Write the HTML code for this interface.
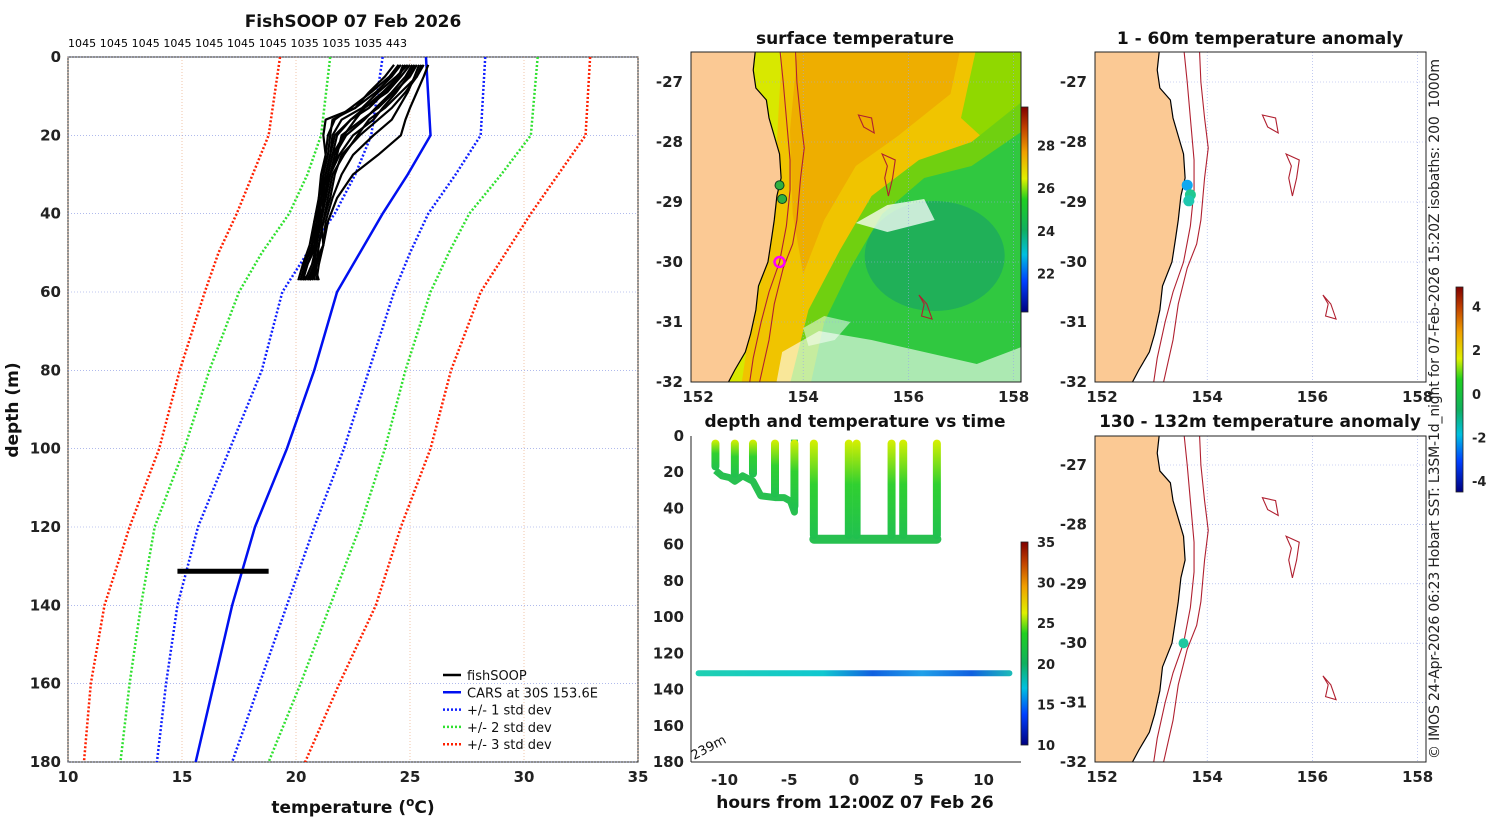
<!DOCTYPE html>
<html><head><meta charset="utf-8"><style>
html,body{margin:0;padding:0;background:#fff;}
svg{display:block;font-family:"DejaVu Sans","Liberation Sans",sans-serif;}
.tk{font-size:15px;font-weight:bold;fill:#222;}
.tt{font-size:17px;font-weight:bold;fill:#111;}
</style></head><body>
<svg id="fig" width="1500" height="820" viewBox="0 0 1500 820" xmlns="http://www.w3.org/2000/svg">
<defs>
<linearGradient id="jet" x1="0" y1="1" x2="0" y2="0">
<stop offset="0" stop-color="#000080"/><stop offset="0.15" stop-color="#0040ff"/><stop offset="0.28" stop-color="#00c0e0"/><stop offset="0.4" stop-color="#10b060"/><stop offset="0.55" stop-color="#20d020"/><stop offset="0.65" stop-color="#e0f000"/><stop offset="0.78" stop-color="#f0a000"/><stop offset="0.9" stop-color="#c04000"/><stop offset="1" stop-color="#800000"/></linearGradient>
<linearGradient id="dive" x1="0" y1="0" x2="0" y2="1"><stop offset="0" stop-color="#d8f000"/><stop offset="0.45" stop-color="#30d030"/><stop offset="1" stop-color="#20c050"/></linearGradient>
<linearGradient id="deep" gradientUnits="userSpaceOnUse" x1="691" y1="0" x2="1021" y2="0"><stop offset="0" stop-color="#20d0b0"/><stop offset="0.4" stop-color="#10c8d0"/><stop offset="0.55" stop-color="#1060e0"/><stop offset="0.7" stop-color="#20a0e8"/><stop offset="0.85" stop-color="#1060e0"/><stop offset="1" stop-color="#20d0b0"/></linearGradient>
<clipPath id="cMid"><rect x="691" y="52" width="330" height="330"/></clipPath>
<clipPath id="cR1"><rect x="1095" y="52" width="331" height="330"/></clipPath>
<clipPath id="cR2"><rect x="1095" y="436" width="331" height="326"/></clipPath>
<clipPath id="cL"><rect x="68" y="57" width="570" height="705"/></clipPath>
</defs>
<g id="gL"></g>
<g id="gM"></g>
<g id="gT"></g>
<g id="gR1"></g>
<g id="gR2"></g>
<text x="353" y="27" text-anchor="middle" class="tt">FishSOOP 07 Feb 2026</text>
<text x="68" y="47" style="font-size:11px" textLength="339">1045 1045 1045 1045 1045 1045 1045 1035 1035 1035 443</text>
<text x="353" y="813" text-anchor="middle" class="tt">temperature (<tspan dy="-7" font-size="12">o</tspan><tspan dy="7">C)</tspan></text>
<text transform="translate(18,410) rotate(-90)" text-anchor="middle" class="tt">depth (m)</text>
<text x="855" y="44" text-anchor="middle" class="tt">surface temperature</text>
<text x="1260" y="44" text-anchor="middle" class="tt">1 - 60m temperature anomaly</text>
<text x="855" y="427" text-anchor="middle" class="tt">depth and temperature vs time</text>
<text x="1260" y="427" text-anchor="middle" class="tt">130 - 132m temperature anomaly</text>
<text x="855" y="808" text-anchor="middle" class="tt">hours from 12:00Z 07 Feb 26</text>
<text transform="translate(1439,409) rotate(-90)" text-anchor="middle" textLength="700" style="font-size:14px" fill="#222">© IMOS 24-Apr-2026 06:23 Hobart SST: L3SM-1d_night for 07-Feb-2026 15:20Z isobaths: 200&#160;&#160;1000m</text>
</svg>
<script>
const NS="http://www.w3.org/2000/svg";
function el(p,tag,a){const e=document.createElementNS(NS,tag);for(const k in a)e.setAttribute(k,a[k]);p.appendChild(e);return e;}
/* ---------- profile chart data ---------- */
const stdDepths=[0,20,30,40,50,60,80,100,120,140,160,180];
const carsMean=[25.7,25.9,24.9,23.8,22.8,21.8,20.8,19.6,18.2,17.2,16.4,15.6];
const plus1=[28.3,28.1,27.0,25.8,25.0,24.3,23.2,22.1,20.8,19.6,18.4,17.2];
const minus1=[23.8,23.3,22.6,21.7,20.5,19.4,18.5,17.1,15.7,14.8,14.3,13.9];
const plus2=[30.6,30.3,29.0,27.6,26.7,25.9,24.8,23.9,22.8,21.5,20.2,18.8];
const minus2=[21.5,21.1,20.5,19.7,18.5,17.5,16.2,15.1,13.8,13.2,12.7,12.3];
const plus3=[32.9,32.7,31.5,30.3,29.2,28.1,26.8,25.9,24.6,23.5,21.9,20.4];
const minus3=[19.3,18.8,18.1,17.4,16.6,16.0,14.9,14.0,12.7,11.6,11.0,10.7];
const fishDepths=[2,5,9,13,16,20,25,30,36,42,48,53,57];
const fishProfiles=[
[25.0,24.6,24.0,23.0,22.4,21.8,21.6,21.4,21.3,21.0,20.9,20.5,20.3],
[25.3,25.0,24.3,23.6,22.9,22.0,21.8,21.5,21.2,21.1,20.9,20.7,20.4],
[24.6,24.2,23.5,22.6,21.3,21.2,21.3,21.1,21.0,20.8,20.7,20.4,20.2],
[25.6,25.3,24.8,24.2,23.6,22.8,22.0,21.7,21.5,21.2,21.0,20.9,20.6],
[24.8,24.5,23.9,23.2,22.4,21.7,21.5,21.3,21.2,20.8,20.6,20.3,20.1],
[25.4,25.2,24.9,24.5,24.2,23.4,22.5,22.0,21.6,21.3,21.2,20.9,20.7],
[24.3,23.9,23.2,22.6,21.6,21.5,21.4,21.2,21.0,21.0,20.8,20.5,20.3],
[25.8,25.6,25.3,25.0,24.8,24.6,23.6,22.5,21.8,21.4,21.2,21.0,20.9],
[25.1,24.8,24.2,23.5,23.0,22.2,21.7,21.5,21.3,21.0,20.9,20.8,20.5],
[24.9,24.4,23.6,22.9,22.0,21.6,21.5,21.3,21.1,21.0,20.9,20.8,20.6],
[25.5,25.3,24.6,23.9,23.2,22.7,22.1,21.6,21.4,21.2,21.0,20.9,20.8],
[24.7,24.5,23.8,23.0,22.6,22.1,21.6,21.4,21.1,20.9,20.7,20.4,20.2],
[25.2,24.9,24.4,23.8,23.4,22.5,21.9,21.5,21.3,21.1,21.2,20.8,21.0],
[24.5,24.1,23.3,22.4,21.7,21.4,21.3,21.2,21.1,20.9,20.8,20.3,20.4]
];
const deepBlobT=[14.8,18.8];const deepBlobD=131.3;
const xTicks=[10,15,20,25,30,35];const yTicks=[0,20,40,60,80,100,120,140,160,180];
const X=t=>68+(t-10)*22.8, Y=d=>57+d*3.9167;
const gL=document.getElementById('gL');
let r=el(gL,'rect',{x:68,y:57,width:570,height:705,fill:'#fff',stroke:'#222','stroke-width':1});


xTicks.forEach(t=>{
 let g=el(gL,'line',{x1:X(t),x2:X(t),y1:57,y2:762,stroke:'#e8a070','stroke-width':0.6,'stroke-dasharray':'1,2'});
 
 
 let tx=el(gL,'text',{x:X(t),y:782,'text-anchor':'middle',class:'tk'});tx.textContent=t;
 
 
});
yTicks.forEach(d=>{
 let g=el(gL,'line',{x1:68,x2:638,y1:Y(d),y2:Y(d),stroke:'#8090e0','stroke-width':0.6,'stroke-dasharray':'1,2'});
 
 
 let tx=el(gL,'text',{x:61,y:Y(d)+5,'text-anchor':'end',class:'tk'});tx.textContent=d;
 
 
});
const gLc=el(gL,'g',{'clip-path':'url(#cL)'});
function line(arr,col,dash,w,name){
 let p=el(gLc,'polyline',{points:arr.map((t,i)=>X(t)+','+Y(stdDepths[i])).join(' '),fill:'none',stroke:col,'stroke-width':w,'stroke-dasharray':dash});
 
 
}
line(plus3,'#ff2000','2,2',2.5,'plus-3-std-line');line(minus3,'#ff2000','2,2',2.5,'minus-3-std-line');
line(plus2,'#30e030','2,2',2.5,'plus-2-std-line');line(minus2,'#30e030','2,2',2.5,'minus-2-std-line');
line(plus1,'#1020ff','2,2',2.5,'plus-1-std-line');line(minus1,'#1020ff','2,2',2.5,'minus-1-std-line');
line(carsMean,'#0010f0','',2.5,'cars-mean-line');
fishProfiles.forEach(pr=>{
 let p=el(gLc,'polyline',{points:pr.map((t,i)=>X(t)+','+Y(fishDepths[i])).join(' '),fill:'none',stroke:'#000','stroke-width':2.2,'stroke-linejoin':'round'});
 
 
});
let bl=el(gLc,'line',{x1:X(deepBlobT[0]),x2:X(deepBlobT[1]),y1:Y(deepBlobD),y2:Y(deepBlobD),stroke:'#000','stroke-width':5});


const legLabels=['fishSOOP','CARS at 30S 153.6E','+/- 1 std dev','+/- 2 std dev','+/- 3 std dev'];
const legCols=['#000','#0010f0','#1020ff','#30e030','#ff2000'];
legLabels.forEach((s,i)=>{
 const y=675+i*17.3;
 let l=el(gL,'line',{x1:443,x2:461,y1:y,y2:y,stroke:legCols[i],'stroke-width':2.5,'stroke-dasharray':i>1?'2,2':''});
 
 
 let t=el(gL,'text',{x:467,y:y+5,'font-size':13,fill:'#111'});t.textContent=s;
 
 
});
/* ---------- maps ---------- */
const lonTicks=[152,154,156,158];const latTicks=[-27,-28,-29,-30,-31,-32];
const coast=[[153.1,-26.4],[153.05,-26.8],[153.1,-27.1],[153.3,-27.3],[153.35,-27.6],[153.45,-27.9],[153.55,-28.2],[153.58,-28.6],[153.5,-28.9],[153.45,-29.3],[153.4,-29.6],[153.33,-30],[153.15,-30.4],[153.1,-30.8],[153.0,-31.2],[152.9,-31.5],[152.7,-31.8],[152.55,-32.05],[152.5,-32.2]];
const iso200=[[153.55,-26.4],[153.62,-27.0],[153.68,-27.6],[153.75,-28.3],[153.75,-28.8],[153.68,-29.4],[153.55,-30],[153.35,-30.5],[153.2,-31],[153.05,-31.6],[152.95,-32.2]];
const iso1000=[[153.85,-26.4],[153.88,-27.0],[153.95,-27.6],[154.02,-28.1],[153.95,-28.6],[153.88,-29.3],[153.8,-29.7],[153.62,-30.1],[153.45,-30.7],[153.35,-31.3],[153.12,-32.2]];
const seamounts=[
[[155.05,-27.55],[155.3,-27.6],[155.35,-27.85],[155.15,-27.75]],
[[155.5,-28.2],[155.75,-28.3],[155.7,-28.6],[155.62,-28.9],[155.55,-28.6],[155.6,-28.4]],
[[156.2,-30.55],[156.35,-30.7],[156.45,-30.95],[156.25,-30.9],[156.3,-30.7]]];
function map(g,x0,y0,w,h,ly,lpd,clip,isSST){
 const LX=lon=>x0+7+(lon-152)*52.6, LY=lat=>ly+(-27-lat)*lpd;
 const P=a=>a.map(p=>LX(p[0])+','+LY(p[1])).join(' ');
 const c=el(g,'g',{'clip-path':clip});
 if(isSST){
  el(c,'rect',{x:x0,y:y0,width:w,height:h,fill:'#f0c400'});
  el(c,'polygon',{points:P([[153.9,-26.4],[157.0,-26.4],[156.8,-27.2],[155.8,-27.9],[155.0,-28.4],[154.4,-29.3],[154.0,-30.2],[153.8,-29.2],[153.75,-27.8]]),fill:'#eeae00'});
  el(c,'polygon',{points:P([[153.1,-26.4],[153.6,-26.4],[153.5,-28],[153.5,-29],[153.3,-30],[153.0,-31],[152.8,-32.2],[152.5,-32.2]]),fill:'#d8e800'});
  el(c,'polygon',{points:P([[157.3,-26.4],[158.2,-26.4],[158.2,-31],[157.5,-28.0],[157.0,-27.6]]),fill:'#90d800'});
  el(c,'polygon',{points:P([[158.2,-27.3],[157.2,-28.0],[156.2,-28.3],[155.3,-28.9],[154.7,-29.8],[154.1,-30.8],[153.7,-32.2],[158.2,-32.2]]),fill:'#70d010'});
  el(c,'polygon',{points:P([[158.2,-27.8],[157.2,-28.4],[156.3,-28.6],[155.5,-29.2],[154.9,-30.1],[154.4,-31.0],[154.1,-32.2],[158.2,-32.2]]),fill:'#30c840'});
  el(c,'ellipse',{cx:LX(156.5),cy:LY(-29.9),rx:70,ry:55,fill:'#20b058'});
  el(c,'polygon',{points:P([[153.45,-32.2],[153.6,-31.5],[154.3,-31.15],[155.3,-31.3],[156.3,-31.5],[157.3,-31.7],[158.2,-31.4],[158.2,-32.2]]),fill:'#fff','fill-opacity':0.6});
  el(c,'polygon',{points:P([[155.0,-29.35],[155.6,-29.05],[156.3,-28.95],[156.5,-29.3],[155.6,-29.5]]),fill:'#fff','fill-opacity':0.75});
  el(c,'polygon',{points:P([[154.0,-31.1],[154.4,-30.9],[154.9,-31.0],[154.6,-31.3],[154.1,-31.4]]),fill:'#fff','fill-opacity':0.5});
 }
 latTicks.forEach(lt=>{let q=el(c,'line',{x1:x0,x2:x0+w,y1:LY(lt),y2:LY(lt),stroke:'#9aa8e8','stroke-width':0.6,'stroke-dasharray':'1,2'});
  
  });
 lonTicks.forEach(ln=>{let q=el(c,'line',{x1:LX(ln),x2:LX(ln),y1:y0,y2:y0+h,stroke:'#9aa8e8','stroke-width':0.6,'stroke-dasharray':'1,2'});
  
  });
 let land=el(c,'polygon',{points:P(coast.concat([[151,-32.3],[151,-26.3]])),fill:'#fbc994',stroke:'#000','stroke-width':1.2});
 
 
 [iso200,iso1000].forEach(a=>{let q=el(c,'polyline',{points:P(a),fill:'none',stroke:'#b02030','stroke-width':1.1});
  
  });
 seamounts.forEach(a=>{let q=el(c,'polygon',{points:P(a),fill:'none',stroke:'#b02030','stroke-width':1.1});
  
  });
 let bx=el(g,'rect',{x:x0,y:y0,width:w,height:h,fill:'none',stroke:'#222','stroke-width':1});
 
 
 lonTicks.forEach(ln=>{let t=el(g,'text',{x:LX(ln),y:y0+h+20,'text-anchor':'middle',class:'tk'});t.textContent=ln;
  
  });
 latTicks.forEach(lt=>{let t=el(g,'text',{x:x0-8,y:LY(lt)+5,'text-anchor':'end',class:'tk'});t.textContent=lt;
  
  });
 return {LX,LY};
}
const gM=document.getElementById('gM');
const m1=map(gM,691,52,330,330,82,60,'url(#cMid)',true);
let pos=el(gM,'circle',{cx:m1.LX(153.55),cy:m1.LY(-30),r:5,fill:'none',stroke:'#ff00ff','stroke-width':2.5});


[[153.55,-28.72],[153.6,-28.95]].forEach(p=>{let q=el(gM,'circle',{cx:m1.LX(p[0]),cy:m1.LY(p[1]),r:4.5,fill:'#30b040',stroke:'#104020','stroke-width':1});
 
 });
function cbar(g,x,y0,y1,ticks,v0,v1,name){
 let b=el(g,'rect',{x:x,y:y0,width:7,height:y1-y0,fill:'url(#jet)',stroke:'#222','stroke-width':0.8});
 
 
 ticks.forEach(v=>{const y=y1-(v-v0)/(v1-v0)*(y1-y0);
  let t=el(g,'text',{x:x+16,y:y+5,'font-size':13,'font-weight':'bold',fill:'#222'});t.textContent=v;
  
  });
}
cbar(gM,1021,107,312,[22,24,26,28],20.2,29.8,'sst-colorbar');
const gR1=document.getElementById('gR1');
const m2=map(gR1,1095,52,331,330,82,60,'url(#cR1)',false);
[[153.62,-28.72,'#10a8f0'],[153.68,-28.88,'#20c890'],[153.65,-28.98,'#20c8b0']].forEach(p=>{let q=el(gR1,'circle',{cx:m2.LX(p[0]),cy:m2.LY(p[1]),r:5.5,fill:p[2]});
 
 });
const gR2=document.getElementById('gR2');
const m3=map(gR2,1095,436,331,326,465,59.4,'url(#cR2)',false);
let am=el(gR2,'circle',{cx:m3.LX(153.55),cy:m3.LY(-30.0),r:5,fill:'#20c8a0'});


cbar(gR1,1456,287,492,[-4,-2,0,2,4],-4.5,4.9,'anomaly-colorbar');
/* ---------- depth vs time ---------- */
const diveHours=[-10.7,-9.2,-7.8,-6.1,-4.6,-3.1,-0.4,0.2,2.9,3.8,6.4];
const diveBottoms=[19,23,23,34,41,57,57,57,57,57,57];
const bottomTrackH=[-10.7,-10.2,-9.6,-9.2,-8.6,-7.8,-7.2,-6.1,-5.4,-4.9,-4.6,-4.6];
const bottomTrackD=[19,22,23,25,22,25,33,34,34,36,42,2];
const deepH=[-12,12];const deepD=[131,131];
const timeTicks=[-10,-5,0,5,10];const depthTicks=[0,20,40,60,80,100,120,140,160,180];
const H=h=>854+h*12.95, D=d=>436+d*1.811;
const gT=document.getElementById('gT');
let tb=el(gT,'rect',{x:691,y:436,width:330,height:326,fill:'#fff'});


el(gT,'line',{x1:691,x2:691,y1:436,y2:762,stroke:'#222'});
el(gT,'line',{x1:691,x2:1021,y1:762,y2:762,stroke:'#222'});
timeTicks.forEach(h=>{let t=el(gT,'text',{x:H(h),y:785,'text-anchor':'middle',class:'tk'});t.textContent=h;
 
 });
depthTicks.forEach(d=>{let t=el(gT,'text',{x:684,y:D(d)+5,'text-anchor':'end',class:'tk'});t.textContent=d;
 
 });
let bt=el(gT,'polyline',{points:bottomTrackH.map((h,i)=>H(h)+','+D(bottomTrackD[i])).join(' '),fill:'none',stroke:'#28c050','stroke-width':7,'stroke-linejoin':'round'});


let bt2=el(gT,'line',{x1:H(diveHours[5]),x2:H(diveHours[10]),y1:D(57),y2:D(57),stroke:'#28c050','stroke-width':9,'stroke-linecap':'round'});


diveHours.forEach((h,i)=>{
 let r=el(gT,'rect',{x:H(h)-4,y:D(2),width:8,height:D(diveBottoms[i])-D(2),rx:4,fill:'url(#dive)'});
 
 
});
let dl=el(gT,'line',{x1:H(deepH[0]),x2:H(deepH[1]),y1:D(deepD[0]),y2:D(deepD[1]),stroke:'url(#deep)','stroke-width':6,'stroke-linecap':'round'});


let lb=el(gT,'text',{transform:'translate(694,760) rotate(-28)','font-size':13,fill:'#111'});lb.textContent='239m';


cbar(gT,1021,542,745,[10,15,20,25,30,35],10,35,'temperature-colorbar');
</script>
</body></html>
